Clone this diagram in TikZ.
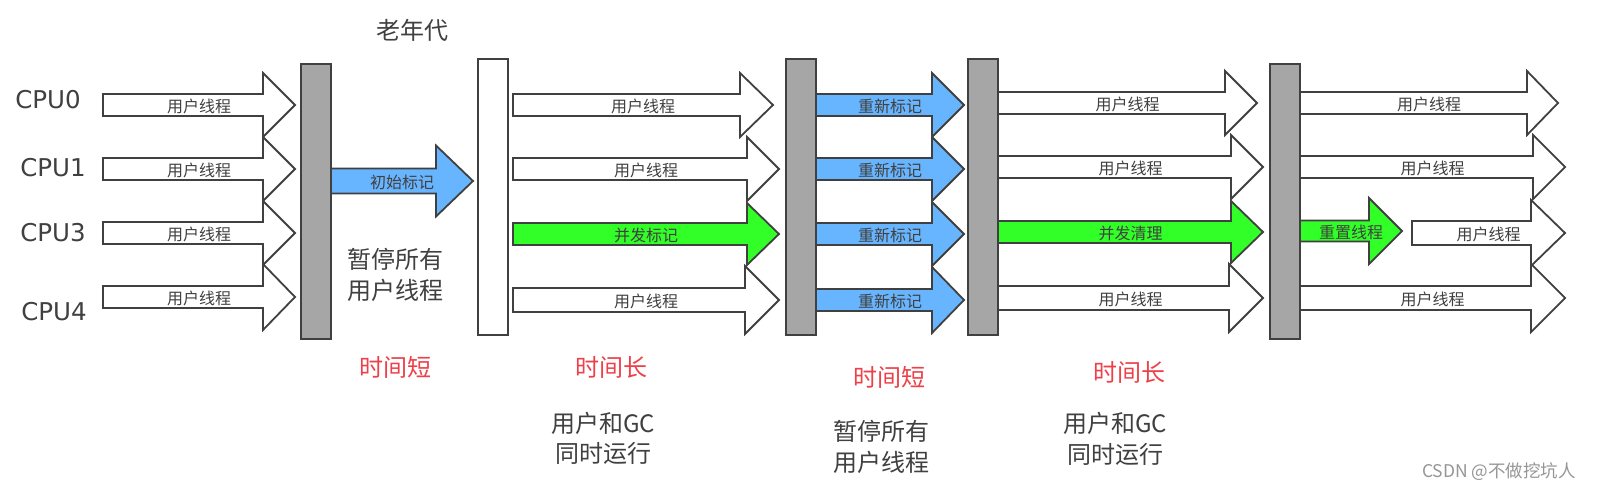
\documentclass[tikz,border=0pt]{standalone}
\usepackage{fontspec}
\setmainfont{Noto Sans CJK SC}
\newfontfamily\latinsans{DejaVu Sans}

\definecolor{ink}{RGB}{64,64,64}
\definecolor{barfill}{RGB}{166,166,166}
\definecolor{markblue}{RGB}{104,181,255}
\definecolor{sweepgreen}{RGB}{50,255,40}
\definecolor{alertred}{RGB}{238,64,72}
\definecolor{markgray}{RGB}{150,150,150}

% name, x start, x tip, y centre, shaft half height, head half height, head length, fill, label
\newcommand\fatarrow[9]{%
  \draw[arrowline, fill=#8] (#2,{#4-#5}) -- ({#3-#7},{#4-#5}) -- ({#3-#7},{#4-#6})
    -- (#3,#4) -- ({#3-#7},{#4+#6}) -- ({#3-#7},{#4+#5}) -- (#2,{#4+#5}) -- cycle;
  \node[arrowtext] (#1) at ({(#2+#3)/2},{#4+1}) {#9};
}

\begin{document}
\begin{tikzpicture}[x=1pt,y=-1pt,
  arrowline/.style={draw=ink, line width=1.8pt, line join=miter},
  arrowtext/.style={inner sep=0pt, text=ink, font=\fontsize{16}{16}\selectfont},
  barbox/.style={draw=ink, line width=2pt, fill=barfill, minimum width=30pt, inner sep=0pt},
  openbar/.style={barbox, fill=white},
  cpulabel/.style={inner sep=0pt, text=ink, font=\latinsans\fontsize{24.5}{24.5}\selectfont},
  heading/.style={inner sep=0pt, text=ink, font=\fontsize{24}{24}\selectfont},
  note/.style={inner sep=0pt, text=ink, align=center, font=\fontsize{24}{30.5}\selectfont},
  timing/.style={inner sep=0pt, text=alertred, font=\fontsize{24}{24}\selectfont}]
\useasboundingbox (0,0) rectangle (1602,489);
\fill[white] (0,0) rectangle (1602,489);

% generation heading and CPU rows
\node[heading] (oldgen) at (412,30) {老年代};
\node[cpulabel] (cpu0) at (48,100) {CPU0};
\node[cpulabel] (cpu1) at (53,168) {CPU1};
\node[cpulabel] (cpu3) at (53,233) {CPU3};
\node[cpulabel] (cpu4) at (54,312) {CPU4};

% user threads before the first pause
\fatarrow{a0}{103}{295}{105}{11}{32}{32}{white}{用户线程}
\fatarrow{a1}{103}{295}{169}{11}{32}{32}{white}{用户线程}
\fatarrow{a3}{103}{295}{233}{11}{32}{32}{white}{用户线程}
\fatarrow{a4}{103}{295}{297}{11}{33}{32}{white}{用户线程}

% initial mark
\fatarrow{initmark}{331}{473}{181}{12.5}{35.5}{37}{markblue}{初始标记}

% concurrent marking phase
\fatarrow{b0}{513}{773}{105}{11}{32}{33}{white}{用户线程}
\fatarrow{b1}{513}{779}{169}{11}{32}{32}{white}{用户线程}
\fatarrow{b3}{513}{779}{234}{11}{31}{32}{sweepgreen}{并发标记}
\fatarrow{b4}{513}{779}{300}{12}{34}{34}{white}{用户线程}

% remark
\fatarrow{c0}{816}{964}{105}{11}{32}{32}{markblue}{重新标记}
\fatarrow{c1}{816}{964}{169}{11}{32}{32}{markblue}{重新标记}
\fatarrow{c3}{816}{964}{234}{11}{32}{32}{markblue}{重新标记}
\fatarrow{c4}{816}{964}{300}{11}{33}{32}{markblue}{重新标记}

% concurrent sweep phase
\fatarrow{d0}{998}{1257}{103}{11}{32}{32}{white}{用户线程}
\fatarrow{d1}{998}{1263}{167}{11}{32}{32}{white}{用户线程}
\fatarrow{d3}{998}{1263}{232}{11}{31}{32}{sweepgreen}{并发清理}
\fatarrow{d4}{998}{1263}{298}{12}{34}{34}{white}{用户线程}

% reset and resumed user threads
\fatarrow{e0}{1300}{1558}{103}{11}{32}{31}{white}{用户线程}
\fatarrow{e1}{1300}{1565}{167}{11}{32}{32}{white}{用户线程}
\fatarrow{reset}{1300}{1402}{231}{10.5}{33}{33}{sweepgreen}{重置线程}
\fatarrow{e3}{1412}{1565}{233}{12}{33}{34}{white}{用户线程}
\fatarrow{e4}{1300}{1565}{298}{12}{34}{34}{white}{用户线程}

% pause barriers
\node[barbox, minimum height=275pt] (bar1) at (316,201.5) {};
\node[openbar, minimum height=276pt] (bar2) at (493,197) {};
\node[barbox, minimum height=276pt] (bar3) at (801,197) {};
\node[barbox, minimum height=276pt] (bar4) at (983,197) {};
\node[barbox, minimum height=275pt] (bar5) at (1285,201.5) {};

% phase notes
\node[note] (pause1) at (395,275) {暂停所有\\用户线程};
\node[timing] (short1) at (395,367) {时间短};
\node[timing] (long1) at (611,367) {时间长};
\node[note] (conc1) at (603,438.5) {用户和GC\\同时运行};
\node[timing] (short2) at (889,377) {时间短};
\node[note] (pause2) at (881,447) {暂停所有\\用户线程};
\node[timing] (long2) at (1129,372) {时间长};
\node[note] (conc2) at (1115,439) {用户和GC\\同时运行};

\node[inner sep=0pt, text=markgray, font=\fontsize{17.5}{17.5}\selectfont] (credit) at (1499,472) {CSDN @不做挖坑人};
\end{tikzpicture}
\end{document}
